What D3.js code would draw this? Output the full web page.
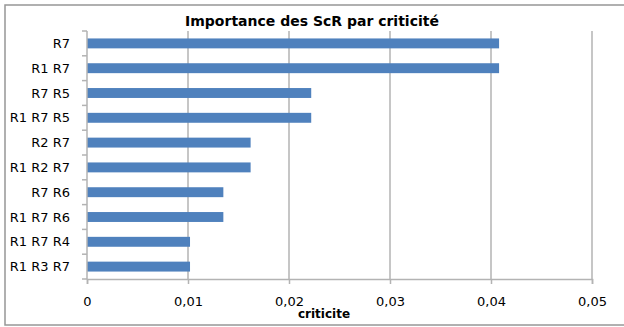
<!DOCTYPE html>
<html>
<head>
<meta charset="utf-8">
<script src="https://cdn.jsdelivr.net/npm/d3@7/dist/d3.min.js"></script>
<style>
  html, body { margin: 0; padding: 0; background: #fff; }
  svg { display: block; }
  .cat text, .val text { font-family: "DejaVu Sans", sans-serif; font-size: 13px; fill: #000; }
</style>
</head>
<body>
<svg id="chart" width="624" height="327"></svg>
<script>
// Scenario combinations and their criticality
const categories = ["R7", "R1 R7", "R7 R5", "R1 R7 R5", "R2 R7", "R1 R2 R7", "R7 R6", "R1 R7 R6", "R1 R7 R4", "R1 R3 R7"];
const criticite = [0.0408, 0.0408, 0.0222, 0.0222, 0.0162, 0.0162, 0.0135, 0.0135, 0.0102, 0.0102];
const xTicks = [0, 0.01, 0.02, 0.03, 0.04, 0.05];
const xTickLabels = ["0", "0,01", "0,02", "0,03", "0,04", "0,05"];
const title = "Importance des ScR par criticité";
const xTitle = "criticite";

const svg = d3.select("#chart");
const W = 624, H = 327;
const plot = { left: 87, right: 592, top: 31, bottom: 279 };

// Outer chart frame (right edge runs past the page)
svg.append("rect")
  .attr("x", 5).attr("y", 5)
  .attr("width", W + 20).attr("height", 320)
  .attr("fill", "#fff")
  .attr("stroke", "#979797").attr("stroke-width", 1.5);

const x = d3.scaleLinear().domain([0, 0.05]).range([plot.left, plot.right]);
const y = d3.scaleBand().domain(categories).range([plot.top, plot.bottom]).paddingInner(0.6).paddingOuter(0.3);

// Vertical gridlines
svg.append("g").selectAll("line")
  .data(xTicks.slice(1))
  .join("line")
  .attr("x1", d => x(d)).attr("x2", d => x(d))
  .attr("y1", plot.top).attr("y2", plot.bottom)
  .attr("stroke", "#b3b3b3").attr("stroke-width", 1.5);

// Bars
svg.append("g").selectAll("rect")
  .data(categories)
  .join("rect")
  .attr("x", x(0))
  .attr("y", d => y(d))
  .attr("width", (d, i) => x(criticite[i]) - x(0))
  .attr("height", y.bandwidth())
  .attr("fill", "#4f81bd");

// Category axis: ticks sit on the band boundaries
const yAxisG = svg.append("g").attr("class", "cat");
const bounds = d3.range(categories.length + 1).map(i => plot.top + i * y.step());
yAxisG.selectAll("line.tk")
  .data(bounds)
  .join("line")
  .attr("class", "tk")
  .attr("x1", plot.left - 5).attr("x2", plot.left)
  .attr("y1", d => d).attr("y2", d => d)
  .attr("stroke", "#b3b3b3").attr("stroke-width", 1.5);
yAxisG.append("line")
  .attr("x1", plot.left).attr("x2", plot.left)
  .attr("y1", plot.top).attr("y2", plot.bottom)
  .attr("stroke", "#b3b3b3").attr("stroke-width", 1.5);
yAxisG.selectAll("text")
  .data(categories)
  .join("text")
  .attr("x", 70)
  .attr("y", d => y(d) + y.bandwidth() / 2)
  .attr("dy", "0.36em")
  .attr("text-anchor", "end")
  .text(d => d);

// Value axis
const xAxis = d3.axisBottom(x)
  .tickValues(xTicks)
  .tickFormat((d, i) => xTickLabels[i])
  .tickSize(5)
  .tickPadding(13);
const xAxisG = svg.append("g")
  .attr("class", "val")
  .attr("transform", `translate(0,${plot.bottom})`)
  .call(xAxis);
xAxisG.select(".domain").attr("stroke", "#b3b3b3").attr("stroke-width", 1.5);
xAxisG.selectAll(".tick line").attr("stroke", "#b3b3b3").attr("stroke-width", 1.5);
xAxisG.selectAll(".tick text").attr("font-family", null).attr("font-size", null);
xAxisG.attr("font-family", null).attr("font-size", null);

// Axis title
svg.append("text")
  .attr("x", 324).attr("y", 318)
  .attr("text-anchor", "middle")
  .style("font-family", "'DejaVu Sans', sans-serif")
  .style("font-size", "12px")
  .style("font-weight", "bold")
  .text(xTitle);

// Chart title
svg.append("text")
  .attr("x", 312).attr("y", 26)
  .attr("text-anchor", "middle")
  .style("font-family", "'DejaVu Sans', sans-serif")
  .style("font-size", "14px")
  .style("font-weight", "bold")
  .text(title);
</script>
</body>
</html>
